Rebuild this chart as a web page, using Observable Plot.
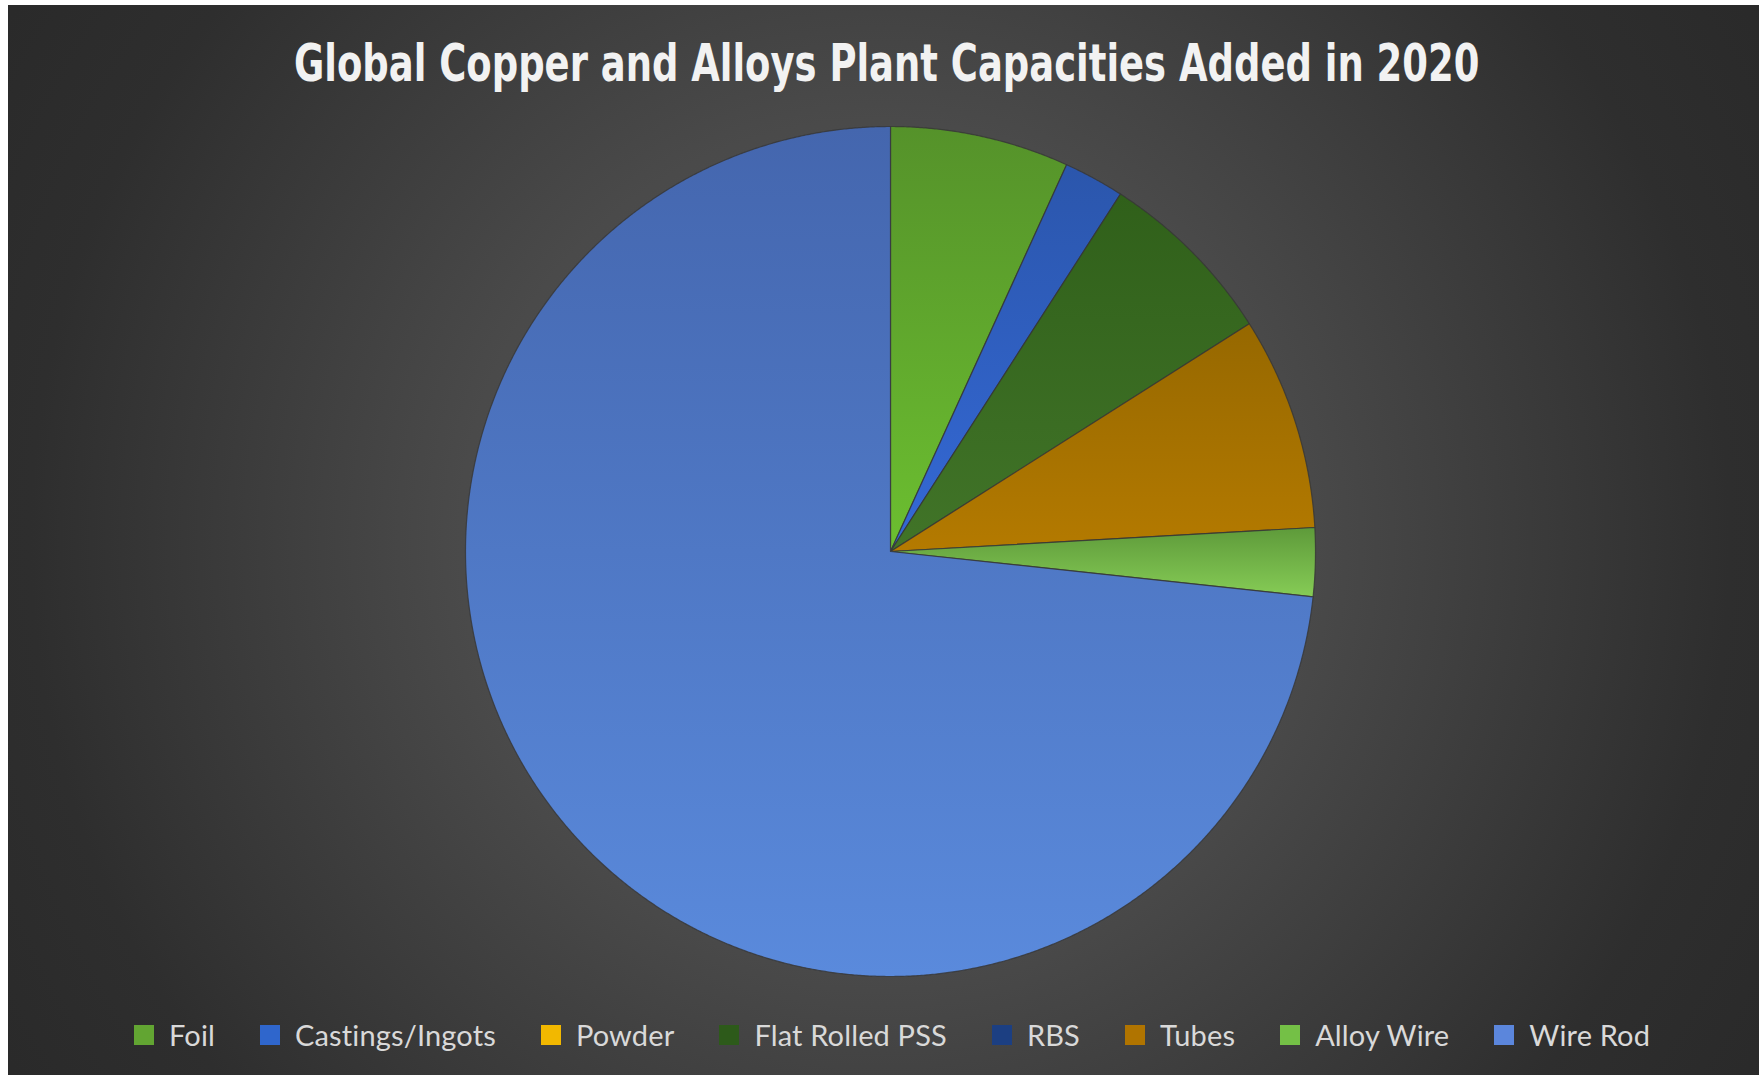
<!DOCTYPE html>
<html>
<head>
<meta charset="utf-8">
<script src="https://cdn.jsdelivr.net/npm/d3@7"></script>
<script src="https://cdn.jsdelivr.net/npm/@observablehq/plot@0.6"></script>
<style>
  html, body { margin: 0; padding: 0; background: #ffffff; width: 1759px; height: 1075px; overflow: hidden; }
  #panel {
    position: absolute; left: 8px; top: 5px; width: 1751px; height: 1070px;
    background: radial-gradient(circle at 872px 535px, #565656 0px, #4a4a4a 420px, #3b3b3b 650px, #2e2e2e 850px, #282828 1100px);
  }
  #title {
    position: absolute; top: 37px; white-space: nowrap; line-height: 1;
    font-family: 'DejaVu Sans Condensed', 'Liberation Sans Narrow', 'DejaVu Sans', sans-serif;
    font-weight: bold; font-size: 52px; color: #f2f2f2; transform-origin: 50% 50%;
  }
  #pie { position: absolute; left: 440px; top: 101px; }
  #legend {
    position: absolute; left: 134px; top: 1017px; display: flex; align-items: center;
    font-family: Lato, "Open Sans", sans-serif; font-size: 29px; letter-spacing: 0.15px; color: #d9d9d9; white-space: nowrap;
  }
  .item { display: flex; align-items: center; margin-right: 45px; }
  .sw { width: 20px; height: 20px; margin-right: 15px; }
</style>
</head>
<body>
<div id="panel"></div>
<div id="title">Global Copper and Alloys Plant Capacities Added in 2020</div>
<div id="pie"></div>
<div id="legend"></div>
<script>
// ---- data ----
const categories = ["Foil", "Castings/Ingots", "Powder", "Flat Rolled PSS", "RBS", "Tubes", "Alloy Wire", "Wire Rod"];
const shares = [6.8, 2.3, 0, 6.9, 0, 8.1, 2.6, 73.3]; // % of capacity added
const legendColors = ["#62a532", "#2f66cc", "#f2b800", "#2d5a1a", "#1c3f82", "#b07400", "#74c046", "#5b86dc"];
const gradTop = ["#55922a", "#2b56ac", "#d9a400", "#30601a", "#183a78", "#966800", "#5e9a3a", "#4466ae"];
const gradBottom = ["#6cbf30", "#3469d6", "#f2b800", "#417428", "#1e4690", "#b47a00", "#86cc56", "#5a8adc"];

// ---- title: fit to the reference width ----
const title = document.getElementById("title");
const tw = title.offsetWidth;
title.style.left = (886 - tw / 2) + "px";
title.style.transform = `scaleX(${1185 / tw})`;

// ---- slices as polygons derived from the data ----
const arcs = d3.pie().sort(null).value(d => d.v).startAngle(0).endAngle(2 * Math.PI)(
  categories.map((name, i) => ({name, v: shares[i]}))
);
const pts = [];
for (const a of arcs) {
  if (a.value <= 0) continue;
  const name = a.data.name;
  pts.push({name, x: 0, y: 0});
  const n = Math.max(2, Math.ceil((a.endAngle - a.startAngle) / (Math.PI / 720)));
  for (let k = 0; k <= n; k++) {
    const t = a.startAngle + (a.endAngle - a.startAngle) * k / n;
    pts.push({name, x: Math.sin(t), y: Math.cos(t)});
  }
  pts.push({name, x: 0, y: 0});
}

const defsMark = () => {
  const ns = "http://www.w3.org/2000/svg";
  const defs = document.createElementNS(ns, "defs");
  categories.forEach((c, i) => {
    const g = document.createElementNS(ns, "linearGradient");
    g.setAttribute("id", "g" + i);
    g.setAttribute("x1", "0"); g.setAttribute("y1", "0");
    g.setAttribute("x2", "0"); g.setAttribute("y2", "1");
    [[0, gradTop[i]], [1, gradBottom[i]]].forEach(([o, col]) => {
      const s = document.createElementNS(ns, "stop");
      s.setAttribute("offset", o);
      s.setAttribute("stop-color", col);
      g.appendChild(s);
    });
    defs.appendChild(g);
  });
  return defs;
};

const lim = 450 / 425;
const chart = Plot.plot({
  width: 900, height: 900,
  margin: 0,
  x: {domain: [-lim, lim], axis: null},
  y: {domain: [-lim, lim], axis: null},
  color: {domain: categories, range: categories.map((c, i) => `url(#g${i})`)},
  style: {background: "transparent", overflow: "visible"},
  marks: [
    defsMark,
    Plot.line(pts, {x: "x", y: "y", z: "name", fill: "name", stroke: "#363636", strokeWidth: 1.2, strokeOpacity: 0.8, curve: "linear"})
  ]
});
document.getElementById("pie").appendChild(chart);

// ---- legend ----
const legend = document.getElementById("legend");
categories.forEach((c, i) => {
  const item = document.createElement("div");
  item.className = "item";
  const sw = document.createElement("div");
  sw.className = "sw";
  sw.style.background = legendColors[i];
  const lab = document.createElement("span");
  lab.textContent = c;
  item.appendChild(sw); item.appendChild(lab);
  legend.appendChild(item);
});
</script>
</body>
</html>
